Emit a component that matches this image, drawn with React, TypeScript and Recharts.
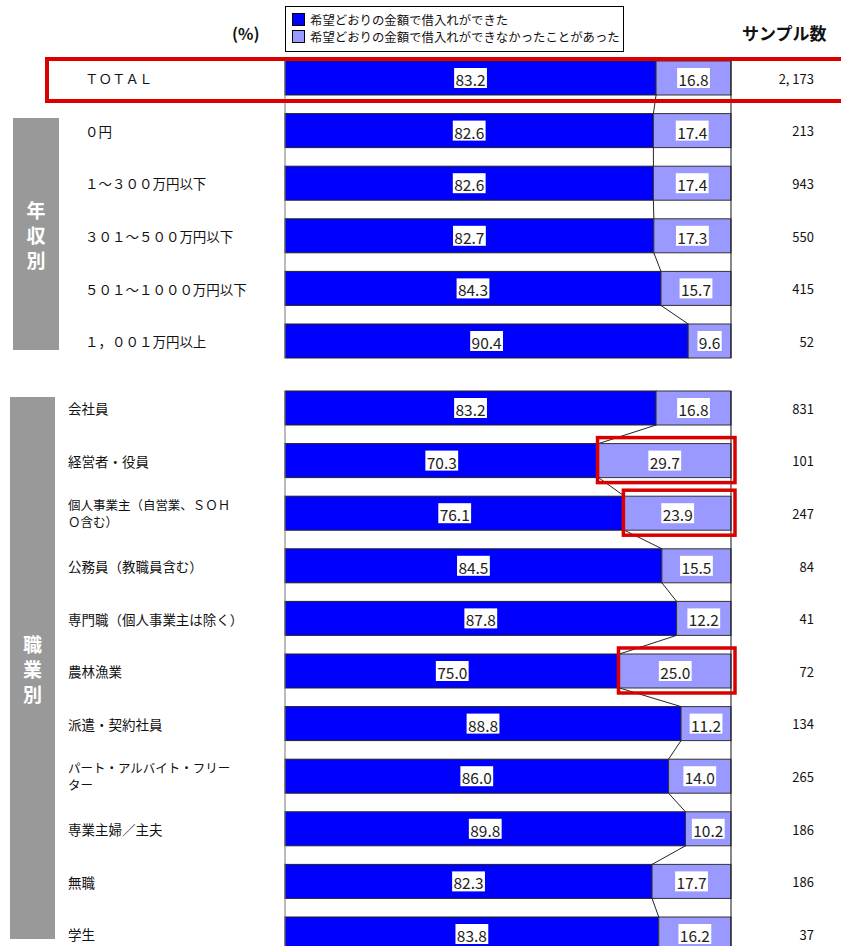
import { BarChart, Bar, XAxis, YAxis, LabelList } from 'recharts'

// 年収別 (TOTAL を含む)
const incomeCats = ['ＴＯＴＡＬ', '０円', '１～３００万円以下', '３０１～５００万円以下', '５０１～１０００万円以下', '１，００１万円以上']
const incomeYes = [83.2, 82.6, 82.6, 82.7, 84.3, 90.4]
const incomeNo = [16.8, 17.4, 17.4, 17.3, 15.7, 9.6]
const incomeN = [2173, 213, 943, 550, 415, 52]

// 職業別
const jobCats = [
  '会社員', '経営者・役員', '個人事業主（自営業、ＳＯＨ\nＯ含む）', '公務員（教職員含む）',
  '専門職（個人事業主は除く）', '農林漁業', '派遣・契約社員', 'パート・アルバイト・フリー\nター',
  '専業主婦／主夫', '無職', '学生',
]
const jobYes = [83.2, 70.3, 76.1, 84.5, 87.8, 75.0, 88.8, 86.0, 89.8, 82.3, 83.8]
const jobNo = [16.8, 29.7, 23.9, 15.5, 12.2, 25.0, 11.2, 14.0, 10.2, 17.7, 16.2]
const jobN = [831, 101, 247, 84, 41, 72, 134, 265, 186, 186, 37]
const jobHighlight = ['経営者・役員', '個人事業主（自営業、ＳＯＨ\nＯ含む）', '農林漁業']

const seriesNames = ['希望どおりの金額で借入れができた', '希望どおりの金額で借入れができなかったことがあった']

const BLUE = '#0000ff'
const LIGHT = '#9999ff'
const RED = '#d90000'
const PITCH = 52.6
const FONT = '"Noto Sans CJK JP", "Noto Sans", sans-serif'

type Row = { name: string; yes: number; no: number; n: number; hl: boolean }

function fmtN(v: number) {
  return v.toLocaleString('en-US').replace(',', ', ')
}

function rowIndex(rows: Row[], p: any) {
  const name = p.payload?.name ?? p.name
  const i = rows.findIndex(r => r.name === name)
  return i >= 0 ? i : p.index
}

function YesShape(p: any) {
  const { x, y, width, height, rows } = p
  const i = rowIndex(rows, p)
  const last = i === rows.length - 1
  const k = width / rows[i].yes
  const nextEnd = last ? 0 : x + rows[i + 1].yes * k
  return (
    <g>
      <rect x={x} y={y} width={width} height={height} fill={BLUE} stroke="#222" strokeWidth={1} />
      <line x1={x} y1={y} x2={x} y2={last ? y + height : y + PITCH} stroke="#777" strokeWidth={1} />
      {!last && <line x1={x + width} y1={y + height} x2={nextEnd} y2={y + PITCH} stroke="#222" strokeWidth={1} />}
    </g>
  )
}

function NoShape(p: any) {
  const { x, y, width, height, rows } = p
  const i = rowIndex(rows, p)
  const last = i === rows.length - 1
  return (
    <g>
      <rect x={x} y={y} width={width} height={height} fill={LIGHT} stroke="#333" strokeWidth={1} />
      <line x1={x + width} y1={y} x2={x + width} y2={last ? y + height : y + PITCH} stroke="#111" strokeWidth={1} />
      {rows[i].hl && (
        <rect x={x - 1} y={y - 6} width={width + 5} height={height + 11} fill="none" stroke={RED} strokeWidth={3.5} />
      )}
    </g>
  )
}

function ValueLabel(p: any) {
  const { x, y, width, height, value } = p
  const s = Number(value).toFixed(1)
  const w = (s.length - 1) * 8.6 + 7
  const cx = x + width / 2
  const cy = y + height / 2
  return (
    <g>
      <rect x={cx - w / 2} y={cy - 10} width={w} height={20} fill="#fff" />
      <text x={cx} y={cy + 1} textAnchor="middle" dominantBaseline="central" fontSize={15.5} fill="#222" fontFamily={FONT}>
        {s}
      </text>
    </g>
  )
}

function RowTick(p: any) {
  const { y, payload, rows, labelX } = p
  const row: Row | undefined = rows.find((r: Row) => r.name === payload.value)
  const lines = String(payload.value).split('\n')
  const size = lines.length > 1 ? 12.5 : 13.5
  const step = 17
  return (
    <g fontFamily={FONT} fill="#111">
      {lines.map((l, j) => (
        <text key={j} x={labelX} y={y + (j - (lines.length - 1) / 2) * step} dominantBaseline="central" fontSize={size}>
          {l}
        </text>
      ))}
      {row && (
        <text x={814} y={y} textAnchor="end" dominantBaseline="central" fontSize={13}>{fmtN(row.n)}</text>
      )}
    </g>
  )
}

function Group({ top, cats, yes, no, n, labelX, highlight }: {
  top: number; cats: string[]; yes: number[]; no: number[]; n: number[]; labelX: number; highlight: string[]
}) {
  const rows: Row[] = cats.map((name, i) => ({ name, yes: yes[i], no: no[i], n: n[i], hl: highlight.includes(name) }))
  return (
    <div style={{ position: 'absolute', left: 0, top }}>
      <BarChart
        width={841}
        height={rows.length * PITCH}
        data={rows}
        layout="vertical"
        margin={{ top: 0, right: 110, bottom: 0, left: 0 }}
        barSize={34}
      >
        <XAxis type="number" domain={[0, 100]} hide />
        <YAxis
          type="category"
          dataKey="name"
          width={285}
          axisLine={false}
          tickLine={false}
          interval={0}
          tick={(t: any) => <RowTick {...t} rows={rows} labelX={labelX} />}
        />
        <Bar dataKey="yes" stackId="a" fill={BLUE} isAnimationActive={false} shape={(s: any) => <YesShape {...s} rows={rows} />}>
          <LabelList dataKey="yes" content={ValueLabel} />
        </Bar>
        <Bar dataKey="no" stackId="a" fill={LIGHT} isAnimationActive={false} shape={(s: any) => <NoShape {...s} rows={rows} />}>
          <LabelList dataKey="no" content={ValueLabel} />
        </Bar>
      </BarChart>
    </div>
  )
}

function SideBox({ left, top, width, height, text }: { left: number; top: number; width: number; height: number; text: string }) {
  return (
    <div style={{
      position: 'absolute', left, top, width, height, background: '#999',
      display: 'flex', flexDirection: 'column', alignItems: 'center', justifyContent: 'center',
      color: '#fff', fontWeight: 'bold', fontSize: 19, lineHeight: '25px',
    }}>
      {text.split('').map(c => <div key={c}>{c}</div>)}
    </div>
  )
}

export default function App() {
  return (
    <div style={{ position: 'relative', width: 841, height: 946, overflow: 'hidden', background: '#fff', fontFamily: FONT }}>
      <style>{'body{margin:0}'}</style>

      <div style={{ position: 'absolute', left: 232, top: 21, fontSize: 16, fontWeight: 'bold', color: '#111' }}>(%)</div>
      <div style={{ position: 'absolute', left: 742, top: 20, fontSize: 17, fontWeight: 'bold', color: '#111' }}>サンプル数</div>

      <div style={{
        position: 'absolute', left: 285, top: 6, width: 339, height: 46, border: '1px solid #000',
        boxSizing: 'border-box', padding: '4px 0 0 6px', fontSize: 12.4, color: '#111',
      }}>
        {seriesNames.map((s, i) => (
          <div key={s} style={{ display: 'flex', alignItems: 'center', height: 17 }}>
            <span style={{ width: 11, height: 11, background: i === 0 ? BLUE : LIGHT, border: '1px solid #000', marginRight: 5 }} />
            <span>{s}</span>
          </div>
        ))}
      </div>

      <SideBox left={13} top={118} width={46} height={232} text="年収別" />
      <SideBox left={10} top={397} width={45} height={542} text="職業別" />

      <Group top={78 - PITCH / 2} cats={incomeCats} yes={incomeYes} no={incomeNo} n={incomeN} labelX={85} highlight={[]} />
      <Group top={408.5 - PITCH / 2} cats={jobCats} yes={jobYes} no={jobNo} n={jobN} labelX={68} highlight={jobHighlight} />

      <div style={{
        position: 'absolute', left: 45, top: 57, width: 830, height: 46,
        border: `4.5px solid ${RED}`, boxSizing: 'border-box', pointerEvents: 'none',
      }} />
    </div>
  )
}
